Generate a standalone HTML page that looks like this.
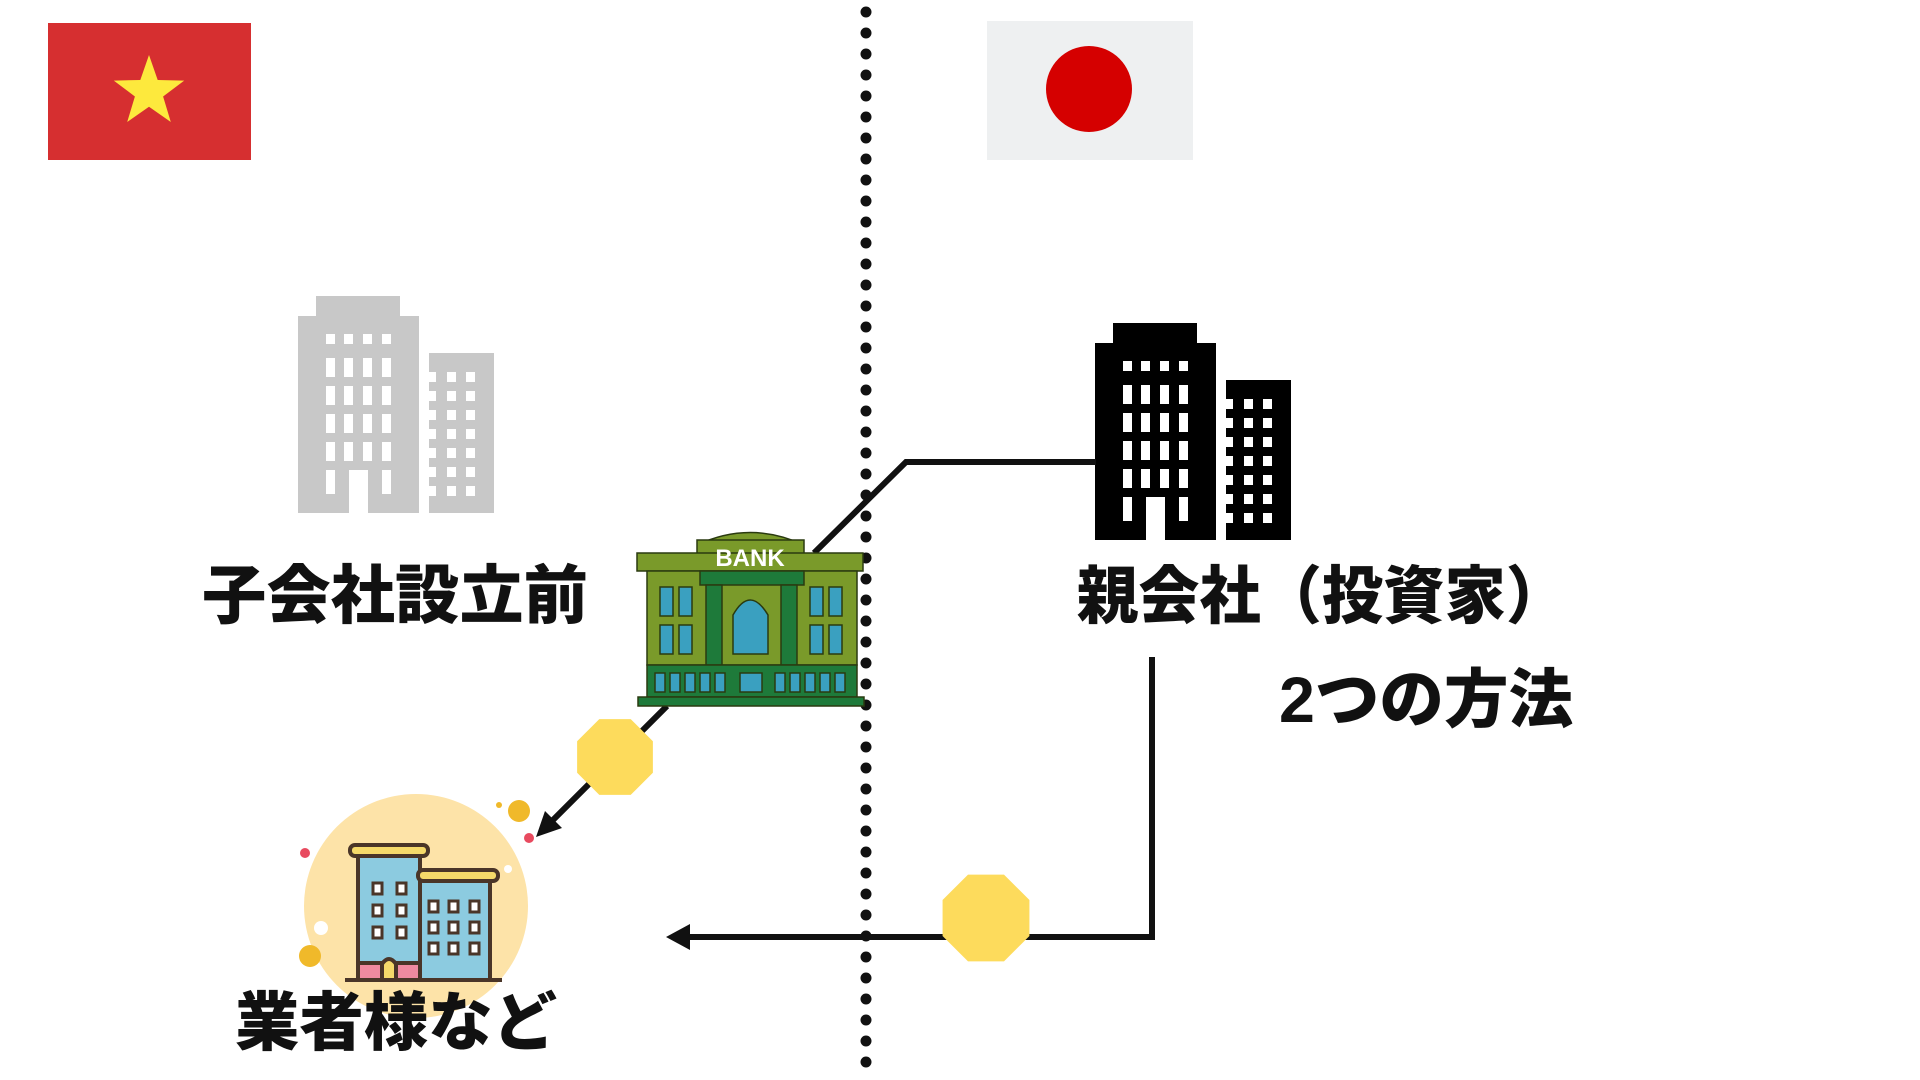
<!DOCTYPE html>
<html><head><meta charset="utf-8"><style>
html,body{margin:0;padding:0;background:#fff;width:1920px;height:1080px;overflow:hidden}
svg{display:block}
text{font-family:"Liberation Sans","Noto Sans CJK JP",sans-serif;font-weight:900;fill:#111}
</style></head><body>
<svg width="1920" height="1080" viewBox="0 0 1920 1080" xmlns="http://www.w3.org/2000/svg">
<defs>
<g id="bld">
<rect x="1113" y="323" width="84" height="22"/>
<rect x="1095" y="343" width="121" height="197"/>
<rect x="1226" y="380" width="65" height="160"/>
</g>
<g id="win">
<g fill="#fff">
<rect x="1123" y="361" width="9" height="10"/><rect x="1141" y="361" width="9" height="10"/><rect x="1160" y="361" width="9" height="10"/><rect x="1179" y="361" width="9" height="10"/>
<rect x="1123" y="385" width="9" height="19"/><rect x="1141" y="385" width="9" height="19"/><rect x="1160" y="385" width="9" height="19"/><rect x="1179" y="385" width="9" height="19"/>
<rect x="1123" y="413" width="9" height="19"/><rect x="1141" y="413" width="9" height="19"/><rect x="1160" y="413" width="9" height="19"/><rect x="1179" y="413" width="9" height="19"/>
<rect x="1123" y="441" width="9" height="19"/><rect x="1141" y="441" width="9" height="19"/><rect x="1160" y="441" width="9" height="19"/><rect x="1179" y="441" width="9" height="19"/>
<rect x="1123" y="469" width="9" height="19"/><rect x="1141" y="469" width="9" height="19"/><rect x="1160" y="469" width="9" height="19"/><rect x="1179" y="469" width="9" height="19"/>
<rect x="1123" y="497" width="9" height="24"/><rect x="1179" y="497" width="9" height="24"/>
<rect x="1146" y="497" width="19" height="43"/>
<rect x="1226" y="399" width="7" height="10"/><rect x="1244" y="399" width="9" height="10"/><rect x="1263" y="399" width="9" height="10"/>
<rect x="1226" y="418" width="7" height="10"/><rect x="1244" y="418" width="9" height="10"/><rect x="1263" y="418" width="9" height="10"/>
<rect x="1226" y="437" width="7" height="10"/><rect x="1244" y="437" width="9" height="10"/><rect x="1263" y="437" width="9" height="10"/>
<rect x="1226" y="456" width="7" height="10"/><rect x="1244" y="456" width="9" height="10"/><rect x="1263" y="456" width="9" height="10"/>
<rect x="1226" y="475" width="7" height="10"/><rect x="1244" y="475" width="9" height="10"/><rect x="1263" y="475" width="9" height="10"/>
<rect x="1226" y="494" width="7" height="10"/><rect x="1244" y="494" width="9" height="10"/><rect x="1263" y="494" width="9" height="10"/>
<rect x="1226" y="513" width="7" height="10"/><rect x="1244" y="513" width="9" height="10"/><rect x="1263" y="513" width="9" height="10"/>
</g>
</g>
</defs>

<!-- flags -->
<rect x="48" y="23" width="203" height="137" fill="#d62f30"/>
<polygon points="149,55 157.7,80 184.2,80.6 163.1,96.5 170.8,122 149,106.8 127.2,122 134.9,96.5 113.8,80.6 140.3,80" fill="#fde93d"/>
<rect x="987" y="21" width="206" height="139" fill="#eef0f1"/>
<circle cx="1089" cy="89" r="43" fill="#d50000"/>

<!-- dotted line -->
<line x1="866" y1="12" x2="866" y2="1080" stroke="#111" stroke-width="11" stroke-linecap="round" stroke-dasharray="0 21"/>

<!-- gray building -->
<g transform="translate(-797,-27)">
<use href="#bld" fill="#c8c8c8"/>
<use href="#win"/>
</g>
<!-- black building -->
<use href="#bld" fill="#000"/>
<use href="#win"/>

<!-- connectors -->
<polyline points="1096,462 906,462 814,553" fill="none" stroke="#111" stroke-width="6"/>
<line x1="667" y1="706" x2="548" y2="825" stroke="#111" stroke-width="6"/>
<polygon points="536,837 545,811 562,828" fill="#111"/>
<polyline points="1152,657 1152,937 685,937" fill="none" stroke="#111" stroke-width="6"/>
<polygon points="666,937 690,924 690,950" fill="#111"/>

<!-- coins -->
<polygon transform="translate(615,757) scale(41)" points="-0.383,-0.924 0.383,-0.924 0.924,-0.383 0.924,0.383 0.383,0.924 -0.383,0.924 -0.924,0.383 -0.924,-0.383" fill="#fddb5c"/>
<polygon transform="translate(986,918) scale(47)" points="-0.383,-0.924 0.383,-0.924 0.924,-0.383 0.924,0.383 0.383,0.924 -0.383,0.924 -0.924,0.383 -0.924,-0.383" fill="#fddb5c"/>

<!-- bank -->
<g stroke="#2a3a10" stroke-width="1.5">
<path d="M697,545 Q750,520 804,545 Z" fill="#7a9a2a"/>
<rect x="697" y="540" width="107" height="16" fill="#7a9a2a"/>
<rect x="637" y="553" width="226" height="18" fill="#7a9a2a"/>
<rect x="647" y="571" width="210" height="94" fill="#7a9a2a"/>
<rect x="700" y="571" width="104" height="14" fill="#1e7a3a"/>
<rect x="706" y="585" width="16" height="80" fill="#1e7a3a"/>
<rect x="781" y="585" width="16" height="80" fill="#1e7a3a"/>
<rect x="647" y="665" width="210" height="32" fill="#1e7a3a"/>
<rect x="638" y="697" width="226" height="9" fill="#1e7a3a"/>
<g fill="#3aa0c0">
<path d="M733,654 V615 Q750,585 768,615 V654 Z"/>
<rect x="660" y="587" width="13" height="29"/><rect x="679" y="587" width="13" height="29"/>
<rect x="660" y="625" width="13" height="29"/><rect x="679" y="625" width="13" height="29"/>
<rect x="810" y="587" width="13" height="29"/><rect x="829" y="587" width="13" height="29"/>
<rect x="810" y="625" width="13" height="29"/><rect x="829" y="625" width="13" height="29"/>
<rect x="655" y="673" width="10" height="19"/><rect x="670" y="673" width="10" height="19"/><rect x="685" y="673" width="10" height="19"/><rect x="700" y="673" width="10" height="19"/><rect x="715" y="673" width="10" height="19"/>
<rect x="740" y="673" width="22" height="19"/>
<rect x="775" y="673" width="10" height="19"/><rect x="790" y="673" width="10" height="19"/><rect x="805" y="673" width="10" height="19"/><rect x="820" y="673" width="10" height="19"/><rect x="835" y="673" width="10" height="19"/>
</g>
</g>
<text x="750" y="566" text-anchor="middle" style="font-size:24px;fill:#fff;font-family:'Liberation Sans',sans-serif;font-weight:bold">BANK</text>

<!-- company icon -->
<circle cx="416" cy="906" r="112" fill="#fde3a8"/>
<circle cx="519" cy="811" r="11" fill="#f0b92a"/>
<circle cx="499" cy="805" r="3" fill="#f0b92a"/>
<circle cx="529" cy="838" r="5" fill="#e84a5f"/>
<circle cx="305" cy="853" r="5" fill="#e84a5f"/>
<circle cx="321" cy="928" r="7" fill="#fff"/>
<circle cx="310" cy="956" r="11" fill="#f0b92a"/>
<circle cx="508" cy="869" r="4" fill="#fff"/>
<g stroke="#4a3528" stroke-width="4">
<rect x="358" y="855" width="62" height="125" fill="#8ccbe0"/>
<rect x="358" y="963" width="62" height="17" fill="#ef8aa0"/>
<rect x="350" y="845" width="78" height="11" rx="5" fill="#f5d96a"/>
<rect x="420" y="880" width="70" height="100" fill="#8ccbe0"/>
<rect x="418" y="870" width="80" height="11" rx="5" fill="#f5d96a"/>
<path d="M382,980 V964 Q389,954 396,964 V980" fill="#f5d96a"/>
<line x1="345" y1="980" x2="502" y2="980"/>
<g fill="#fff" stroke-width="3">
<rect x="373" y="883" width="9" height="11"/><rect x="397" y="883" width="9" height="11"/>
<rect x="373" y="905" width="9" height="11"/><rect x="397" y="905" width="9" height="11"/>
<rect x="373" y="927" width="9" height="11"/><rect x="397" y="927" width="9" height="11"/>
<rect x="429" y="901" width="9" height="11"/><rect x="449" y="901" width="9" height="11"/><rect x="470" y="901" width="9" height="11"/>
<rect x="429" y="922" width="9" height="11"/><rect x="449" y="922" width="9" height="11"/><rect x="470" y="922" width="9" height="11"/>
<rect x="429" y="943" width="9" height="11"/><rect x="449" y="943" width="9" height="11"/><rect x="470" y="943" width="9" height="11"/>
</g>
</g>

<!-- labels -->
<text x="202" y="618" style="font-size:64px" textLength="386" lengthAdjust="spacingAndGlyphs">子会社設立前</text>
<text x="1077" y="618" style="font-size:63px" textLength="490" lengthAdjust="spacingAndGlyphs">親会社（投資家）</text>
<text x="1279" y="722" style="font-size:64px" textLength="294" lengthAdjust="spacingAndGlyphs">2つの方法</text>
<text x="235" y="1045" style="font-size:64px" textLength="322" lengthAdjust="spacingAndGlyphs">業者様など</text>
</svg>
</body></html>
